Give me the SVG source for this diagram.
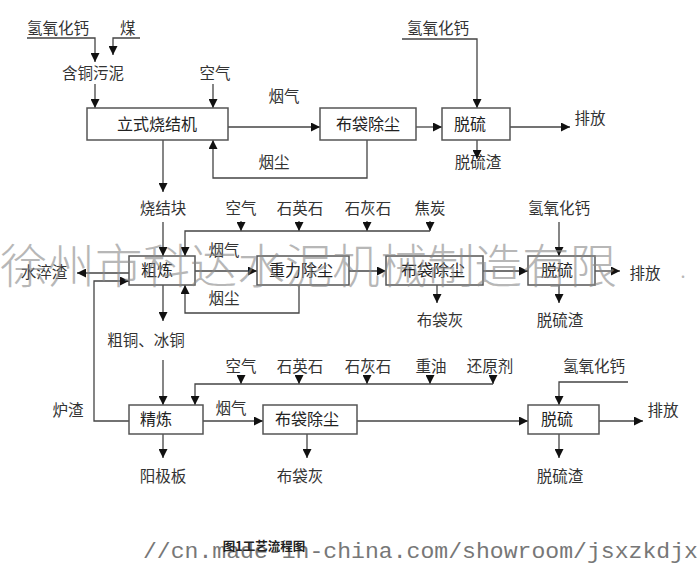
<svg xmlns="http://www.w3.org/2000/svg" width="698" height="563" viewBox="0 0 698 563">
<defs>
<marker id="ah" viewBox="0 0 10 10" refX="10" refY="5" markerWidth="9" markerHeight="9" markerUnits="userSpaceOnUse" orient="auto">
<path d="M0,0 L10,5 L0,10 z" fill="#111"/>
</marker>
<style>
.t{font-family:"Noto Sans CJK SC","Liberation Sans",sans-serif;font-size:15.5px;fill:#333;}
.m{text-anchor:middle;}
.box rect{fill:#fff;stroke:#555;stroke-width:1.5;}
.box text{font-family:"Noto Sans CJK SC","Liberation Sans",sans-serif;font-size:16px;fill:#222;text-anchor:middle;}
#connectors path{fill:none;stroke:#444;stroke-width:1.3;}
.a{marker-end:url(#ah);}
.wm{font-family:"Noto Sans CJK SC",serif;font-weight:300;fill:#888;opacity:0.6;}
</style>
</defs>
<rect width="698" height="563" fill="#fff"/>

<!-- free labels -->
<g id="labels">
<text class="t" x="27" y="34">氢氧化钙</text>
<text class="t" x="120" y="34">煤</text>
<text class="t" x="62" y="79">含铜污泥</text>
<text class="t m" x="215" y="79">空气</text>
<text class="t m" x="284" y="102">烟气</text>
<text class="t m" x="274" y="168">烟尘</text>
<text class="t m" x="438" y="34">氢氧化钙</text>
<text class="t m" x="590" y="124">排放</text>
<text class="t m" x="478" y="168">脱硫渣</text>
<text class="t m" x="163" y="214">烧结块</text>

<text class="t m" x="241" y="214">空气</text>
<text class="t m" x="300" y="214">石英石</text>
<text class="t m" x="368" y="214">石灰石</text>
<text class="t m" x="430" y="214">焦炭</text>
<text class="t m" x="559" y="214">氢氧化钙</text>
<text class="t m" x="224" y="256">烟气</text>
<text class="t m" x="224" y="304">烟尘</text>
<text class="t m" x="44" y="278">水淬渣</text>
<text class="t m" x="645" y="279">排放</text>
<text class="t m" x="440" y="326">布袋灰</text>
<text class="t m" x="560" y="326">脱硫渣</text>
<text class="t m" x="146" y="346">粗铜、冰铜</text>

<text class="t m" x="241" y="372">空气</text>
<text class="t m" x="300" y="372">石英石</text>
<text class="t m" x="368" y="372">石灰石</text>
<text class="t m" x="431" y="372">重油</text>
<text class="t m" x="490" y="372">还原剂</text>
<text class="t m" x="594" y="372">氢氧化钙</text>
<text class="t m" x="68" y="416">炉渣</text>
<text class="t m" x="231" y="414">烟气</text>
<text class="t m" x="663" y="416">排放</text>
<text class="t m" x="163" y="482">阳极板</text>
<text class="t m" x="300" y="482">布袋灰</text>
<text class="t m" x="560" y="482">脱硫渣</text>
</g>

<!-- connectors -->
<g id="connectors">
<path class="a" d="M27 38 H95 V62"/>
<path class="a" d="M140 38 H113 V55"/>
<path class="a" d="M95 84 V108"/>
<path class="a" d="M213 84 V108"/>
<path class="a" d="M228 127 H320"/>
<path class="a" d="M367 140 V178 H213 V140"/>
<path class="a" d="M416 127 H442"/>
<path class="a" d="M402 39 H477 V108"/>
<path class="a" d="M510 127 H570"/>
<path class="a" d="M477 140 V159"/>
<path class="a" d="M163 140 V192"/>

<path class="a" d="M163 222 V256"/>
<path class="a" d="M241 221 V231"/>
<path class="a" d="M299 221 V231"/>
<path class="a" d="M367 221 V231"/>
<path class="a" d="M430 221 V231"/>
<path class="a" d="M430 231 H185 V256"/>
<path class="a" d="M195 271 H257"/>
<path class="a" d="M349 271 H386"/>
<path class="a" d="M483 271 H528"/>
<path class="a" d="M595 271 H620"/>
<path class="a" d="M559 222 V256"/>
<path class="a" d="M437 285 V303"/>
<path class="a" d="M559 285 V303"/>
<path class="a" d="M299 285 V313 H185 V285"/>
<path class="a" d="M129 273 H77"/>
<path class="a" d="M163 285 V321"/>
<path class="a" d="M129 421 H94 V281 H129"/>

<path class="a" d="M163 360 V405"/>
<path class="a" d="M241 376 V384"/>
<path class="a" d="M299 376 V384"/>
<path class="a" d="M367 376 V384"/>
<path class="a" d="M430 376 V384"/>
<path class="a" d="M493 376 V384"/>
<path class="a" d="M493 384 H195 V405"/>
<path class="a" d="M203 421 H263"/>
<path class="a" d="M357 421 H528"/>
<path class="a" d="M599 421 H643"/>
<path class="a" d="M628 382 H559 V405"/>
<path class="a" d="M559 434 V458"/>
<path class="a" d="M307 434 V458"/>
<path class="a" d="M163 434 V458"/>
</g>

<!-- nodes -->
<g id="sinter" class="box"><rect x="87" y="108" width="141" height="32"/><text x="157" y="130">立式烧结机</text></g>
<g id="bag1" class="box"><rect x="320" y="108" width="96" height="32"/><text x="368" y="130">布袋除尘</text></g>
<g id="desulf1" class="box"><rect x="442" y="108" width="68" height="32"/><text x="470" y="130">脱硫</text></g>

<g id="rough" class="box"><rect x="129" y="256" width="66" height="29"/><text x="157" y="276">粗炼</text></g>
<g id="gravity" class="box"><rect x="257" y="256" width="92" height="29"/><text x="301" y="276">重力除尘</text></g>
<g id="bag2" class="box"><rect x="386" y="256" width="97" height="29"/><text x="433" y="276">布袋除尘</text></g>
<g id="desulf2" class="box"><rect x="528" y="256" width="67" height="29"/><text x="557" y="276">脱硫</text></g>

<g id="refine" class="box"><rect x="129" y="405" width="74" height="29"/><text x="156" y="425">精炼</text></g>
<g id="bag3" class="box"><rect x="263" y="405" width="94" height="29"/><text x="307" y="425">布袋除尘</text></g>
<g id="desulf3" class="box"><rect x="528" y="405" width="71" height="29"/><text x="557" y="425">脱硫</text></g>

<!-- watermarks -->
<text class="wm" x="0" y="283" font-size="47" textLength="617" lengthAdjust="spacingAndGlyphs">徐州市科达水泥机械制造有限</text>
<text class="wm" x="680" y="278" font-size="24">.</text>
<text x="143" y="558" font-family="Liberation Mono,monospace" font-size="22" fill="#777" textLength="555" lengthAdjust="spacingAndGlyphs">//cn.made-in-china.com/showroom/jsxzkdjx</text>
<text x="264" y="551" font-family="Noto Sans CJK SC,sans-serif" font-size="12.5" font-weight="bold" fill="#222" text-anchor="middle">图1工艺流程图</text>
</svg>
